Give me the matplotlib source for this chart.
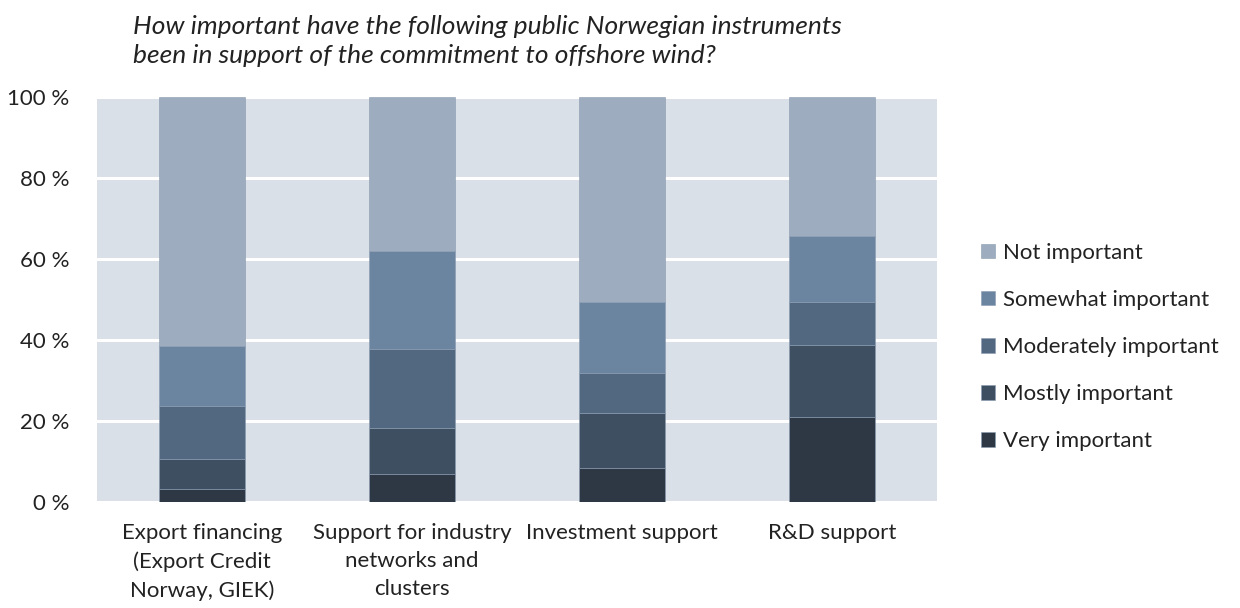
import numpy as np
import matplotlib.pyplot as plt

categories = ["Export financing\n(Export Credit\nNorway, GIEK)",
              "Support for industry\nnetworks and\nclusters",
              "Investment support",
              "R&D support"]
series = ["Very important", "Mostly important", "Moderately important",
          "Somewhat important", "Not important"]
very = [3.3, 7.0, 8.4, 20.9]
mostly = [7.3, 11.2, 13.5, 17.8]
moderately = [13.2, 19.5, 10.0, 10.6]
somewhat = [14.6, 24.3, 17.4, 16.4]
not_imp = [61.6, 38.0, 50.7, 34.3]
yticks = [0, 20, 40, 60, 80, 100]

colors = ["#2d3844", "#3f4f62", "#526880", "#6b849f", "#9dacbe"]

plt.rcParams['font.family'] = ['Lato', 'DejaVu Sans']

fig = plt.figure(figsize=(12.4, 6.08), dpi=100)
ax = fig.add_axes([97/1240, 1-502/608, 840/1240, 405/608])
ax.set_facecolor("#dae0e8")

x = np.arange(len(categories))
bottom = np.zeros(len(categories))
for name, vals, c in zip(series, [very, mostly, moderately, somewhat, not_imp], colors):
    ax.bar(x, vals, 0.405, bottom=bottom, color=c, label=name,
           edgecolor="#8a9bb0", linewidth=0.4, zorder=3)
    bottom += np.array(vals)

ax.set_xlim(-0.5, len(categories) - 0.5)
ax.set_ylim(0, 100)
ax.set_yticks(yticks)
ax.set_yticklabels([f"{v} %" for v in yticks], fontsize=16, color="#222222")
ax.set_xticks(x)
ax.set_xticklabels(categories, fontsize=16, color="#222222", linespacing=1.5)
ax.yaxis.grid(True, color="white", linewidth=2.2, zorder=1)
ax.set_axisbelow(True)
ax.tick_params(length=0)
ax.tick_params(axis='x', pad=15)
ax.tick_params(axis='y', pad=20)
for s in ax.spines.values():
    s.set_visible(False)

handles, labels = ax.get_legend_handles_labels()
leg = fig.legend(handles[::-1], labels[::-1], loc="center left",
                 bbox_to_anchor=(981/1240, 1-347/608), frameon=False,
                 fontsize=16, handlelength=0.64, handleheight=0.64,
                 handletextpad=0.35, labelspacing=1.22, borderpad=0,
                 borderaxespad=0)
for t in leg.get_texts():
    t.set_color("#222222")

fig.text(133/1240, 1-15/608,
         "How important have the following public Norwegian instruments\n"
         "been in support of the commitment to offshore wind?",
         ha="left", va="top", fontsize=19, style="italic", color="#222222",
         linespacing=1.3)

fig.savefig("out.png", dpi=100, facecolor="white")
